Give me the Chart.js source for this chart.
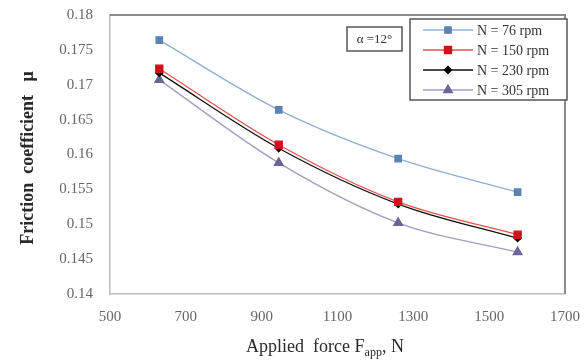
<!DOCTYPE html>
<html>
<head>
<meta charset="utf-8">
<script src="https://cdn.jsdelivr.net/npm/chart.js@4.4.1/dist/chart.umd.min.js"></script>
<style>
  html, body { margin: 0; padding: 0; background: #fff; }
  #wrap { width: 585px; height: 362px; }
</style>
</head>
<body>
<div id="wrap"><canvas id="myChart"></canvas></div>
<script>
// ----- donnees -----
var forces = [630, 945, 1260, 1575];
var mu76  = [0.1764, 0.1664, 0.1594, 0.1546];
var mu150 = [0.1723, 0.1614, 0.1532, 0.1485];
var mu230 = [0.1717, 0.1609, 0.1529, 0.1480];
var mu305 = [0.1707, 0.1588, 0.1502, 0.1460];
var seriesLabels = ['N = 76 rpm', 'N = 150 rpm', 'N = 230 rpm', 'N = 305 rpm'];

var serif = '"Liberation Serif", "DejaVu Serif", serif';

function pts(ys) {
    return forces.map(function (f, i) { return { x: f, y: ys[i] }; });
}

const styles = [
    { line: '#8eaed6', fill: '#5b82b4', pointStyle: 'rect', radius: 4.5 },
    { line: '#e8504a', fill: '#d0101c', pointStyle: 'rect', radius: 5 },
    { line: '#111111', fill: '#000000', pointStyle: 'rectRot', radius: 3.5 },
    { line: '#a49cc4', fill: '#6d6399', pointStyle: 'triangle', radius: 5 }
];

const data = {
    datasets: [mu76, mu150, mu230, mu305].map(function (ys, i) {
        return {
            label: seriesLabels[i],
            data: pts(ys),
            borderColor: styles[i].line,
            backgroundColor: styles[i].fill,
            pointBackgroundColor: styles[i].fill,
            pointBorderColor: styles[i].fill,
            pointStyle: styles[i].pointStyle,
            pointRadius: styles[i].radius,
            borderWidth: 1.3,
            tension: 0.35,
            cubicInterpolationMode: 'monotone'
        };
    })
};

// cadre, titres d'axes, legende et encadre alpha
const decor = {
    id: 'decor',
    afterDraw: function (chart) {
        const ctx = chart.ctx;
        const a = chart.chartArea;
        ctx.save();
        // bordure haut + droite
        ctx.strokeStyle = '#8c8c8c';
        ctx.lineWidth = 2;
        ctx.beginPath();
        ctx.moveTo(a.left, a.top);
        ctx.lineTo(a.right, a.top);
        ctx.lineTo(a.right, a.bottom);
        ctx.stroke();

        // titre axe Y
        ctx.fillStyle = '#2a2a2a';
        ctx.font = 'bold 18px ' + serif;
        ctx.textAlign = 'center';
        ctx.textBaseline = 'middle';
        ctx.translate(28, 158);
        ctx.rotate(-Math.PI / 2);
        ctx.fillText('Friction  coefficient   \u03bc', 0, 0);
        ctx.setTransform(1, 0, 0, 1, 0, 0);

        // titre axe X avec indice
        var big = '18px ' + serif, small = '12px ' + serif;
        ctx.font = big;
        ctx.textAlign = 'left';
        ctx.textBaseline = 'alphabetic';
        var p1 = 'Applied  force F', sub = 'app', p2 = ', N';
        var w1 = ctx.measureText(p1).width, w3 = ctx.measureText(p2).width;
        ctx.font = small;
        var w2 = ctx.measureText(sub).width;
        var x0 = 325 - (w1 + w2 + w3) / 2;
        var yb = 352;
        ctx.font = big;
        ctx.fillText(p1, x0, yb);
        ctx.font = small;
        ctx.fillText(sub, x0 + w1, yb + 4);
        ctx.font = big;
        ctx.fillText(p2, x0 + w1 + w2, yb);

        // encadre alpha
        ctx.strokeStyle = '#555';
        ctx.lineWidth = 1.5;
        ctx.strokeRect(347, 27, 55, 24);
        ctx.fillStyle = '#333';
        ctx.font = '13px ' + serif;
        ctx.textAlign = 'center';
        ctx.textBaseline = 'middle';
        ctx.fillText('\u03b1 =12\u00b0', 374.5, 39.5);

        // legende
        ctx.fillStyle = '#fff';
        ctx.fillRect(410, 19, 157, 81);
        ctx.strokeStyle = '#555';
        ctx.lineWidth = 1.5;
        ctx.strokeRect(410, 19, 157, 81);
        chart.data.datasets.forEach(function (ds, i) {
            var yy = 30 + i * 20;
            ctx.strokeStyle = ds.borderColor;
            ctx.lineWidth = 1.3;
            ctx.beginPath();
            ctx.moveTo(423, yy);
            ctx.lineTo(473, yy);
            ctx.stroke();
            ctx.fillStyle = ds.pointBackgroundColor;
            ctx.strokeStyle = ds.pointBorderColor;
            Chart.helpers.drawPoint(ctx, {
                pointStyle: ds.pointStyle,
                radius: ds.pointRadius,
                borderWidth: 1
            }, 448, yy);
            ctx.fillStyle = '#333';
            ctx.font = '14px ' + serif;
            ctx.textAlign = 'left';
            ctx.textBaseline = 'middle';
            ctx.fillText(ds.label, 477, yy + 1);
        });
        ctx.restore();
    }
};

const config = {
    type: 'line',
    data: data,
    options: {
        responsive: true,
        maintainAspectRatio: false,
        animation: false,
        layout: { padding: { top: 15, right: 20, left: 0, bottom: 0 } },
        scales: {
            x: {
                type: 'linear',
                min: 500,
                max: 1700,
                ticks: {
                    stepSize: 200,
                    color: '#666',
                    padding: 14,
                    font: { family: serif, size: 15 },
                    callback: function (v) { return String(v); }
                },
                grid: { display: false, drawTicks: false },
                border: { color: '#bdbdbd', width: 1.5 },
                afterFit: function (s) {
                    s.height = 68;
                    s.paddingLeft = 0;
                    s.paddingRight = 0;
                }
            },
            y: {
                min: 0.14,
                max: 0.18,
                ticks: {
                    stepSize: 0.005,
                    color: '#666',
                    padding: 17,
                    font: { family: serif, size: 15 },
                    callback: function (v) { return Number(v.toFixed(3)).toString(); }
                },
                grid: { display: false, drawTicks: false },
                border: { color: '#bdbdbd', width: 1.5 },
                afterFit: function (s) {
                    s.width = 110;
                    s.paddingTop = 0;
                    s.paddingBottom = 0;
                }
            }
        },
        plugins: {
            legend: { display: false },
            tooltip: { enabled: false }
        }
    },
    plugins: [decor]
};

const myChart = new Chart(document.getElementById('myChart').getContext('2d'), config);
</script>
</body>
</html>
